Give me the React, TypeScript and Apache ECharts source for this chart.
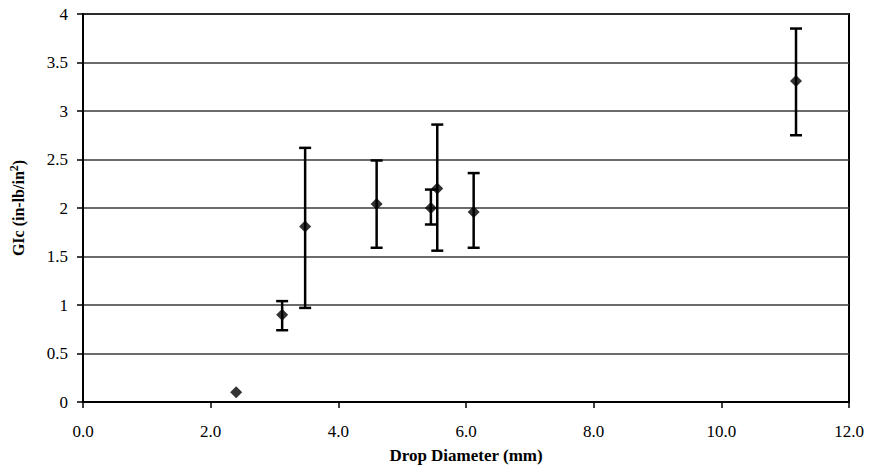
import React, { useEffect, useRef } from "react";
import * as echarts from "echarts";

const diameters = [2.4, 3.12, 3.48, 4.6, 5.45, 5.55, 6.12, 11.17];
const gic = [0.1, 0.9, 1.81, 2.04, 2.0, 2.2, 1.96, 3.31];
const errLow = [null, 0.74, 0.97, 1.59, 1.83, 1.56, 1.59, 2.75];
const errHigh = [null, 1.04, 2.62, 2.49, 2.19, 2.86, 2.36, 3.85];

const FONT = "'Liberation Serif', 'Times New Roman', serif";

export default function App() {
  const ref = useRef<HTMLDivElement>(null);
  useEffect(() => {
    if (!ref.current) return;
    const chart = echarts.init(ref.current, null, { renderer: "svg" });
    const points = diameters.map((d, i) => [d, gic[i]]);
    const errData = diameters
      .map((d, i) => [d, errLow[i], errHigh[i]])
      .filter((r) => r[1] != null);
    chart.setOption({
      animation: false,
      backgroundColor: "#fff",
      grid: {
        left: 81,
        right: 22,
        top: 14,
        bottom: 66,
        show: true,
        borderColor: "#000",
        borderWidth: 2,
      },
      xAxis: {
        type: "value",
        min: 0,
        max: 12,
        interval: 2,
        name: "Drop Diameter (mm)",
        nameLocation: "middle",
        nameGap: 45,
        nameTextStyle: { fontFamily: FONT, fontSize: 17, fontWeight: "bold", color: "#000" },
        axisLine: { onZero: false, lineStyle: { color: "#000", width: 2 } },
        axisTick: { show: true, length: 6, lineStyle: { color: "#000", width: 1.5 } },
        axisLabel: {
          fontFamily: FONT,
          fontSize: 17,
          color: "#000",
          margin: 21,
          formatter: (v: number) => v.toFixed(1),
        },
        splitLine: { show: false },
      },
      yAxis: {
        type: "value",
        min: 0,
        max: 4,
        interval: 0.5,
        name: "{b|GIc (in-lb/in}{s|2}{b|)}",
        nameLocation: "middle",
        nameGap: 54,
        nameTextStyle: {
          fontFamily: FONT,
          color: "#000",
          rich: {
            b: { fontFamily: FONT, fontSize: 16, fontWeight: "bold", color: "#000" },
            s: {
              fontFamily: FONT,
              fontSize: 12,
              fontWeight: "bold",
              color: "#000",
              verticalAlign: "bottom",
              padding: [0, 0, 9, 0],
            },
          },
        },
        axisLine: { show: true, lineStyle: { color: "#000", width: 2 } },
        axisTick: { show: true, length: 6, lineStyle: { color: "#000", width: 1.5 } },
        axisLabel: {
          fontFamily: FONT,
          fontSize: 17,
          color: "#000",
          margin: 15,
        },
        splitLine: { show: true, lineStyle: { color: "#3a3a3a", width: 1.5 } },
      },
      series: [
        {
          type: "custom",
          data: errData,
          z: 3,
          renderItem: (params: any, api: any) => {
            const x = api.value(0);
            const lo = api.coord([x, api.value(1)]);
            const hi = api.coord([x, api.value(2)]);
            const hw = 6;
            const style = { stroke: "#000", lineWidth: 2.5 };
            return {
              type: "group",
              children: [
                { type: "line", shape: { x1: lo[0], y1: lo[1], x2: hi[0], y2: hi[1] }, style },
                { type: "line", shape: { x1: hi[0] - hw, y1: hi[1], x2: hi[0] + hw, y2: hi[1] }, style },
                { type: "line", shape: { x1: lo[0] - hw, y1: lo[1], x2: lo[0] + hw, y2: lo[1] }, style },
              ],
            };
          },
        },
        {
          type: "scatter",
          data: points,
          symbol: "diamond",
          symbolSize: 12,
          z: 4,
          itemStyle: { color: "#000" },
        },
      ],
    });
    return () => chart.dispose();
  }, []);
  return (
    <div
      ref={ref}
      style={{ position: "absolute", left: 0, top: 0, width: 871, height: 469 }}
    />
  );
}
